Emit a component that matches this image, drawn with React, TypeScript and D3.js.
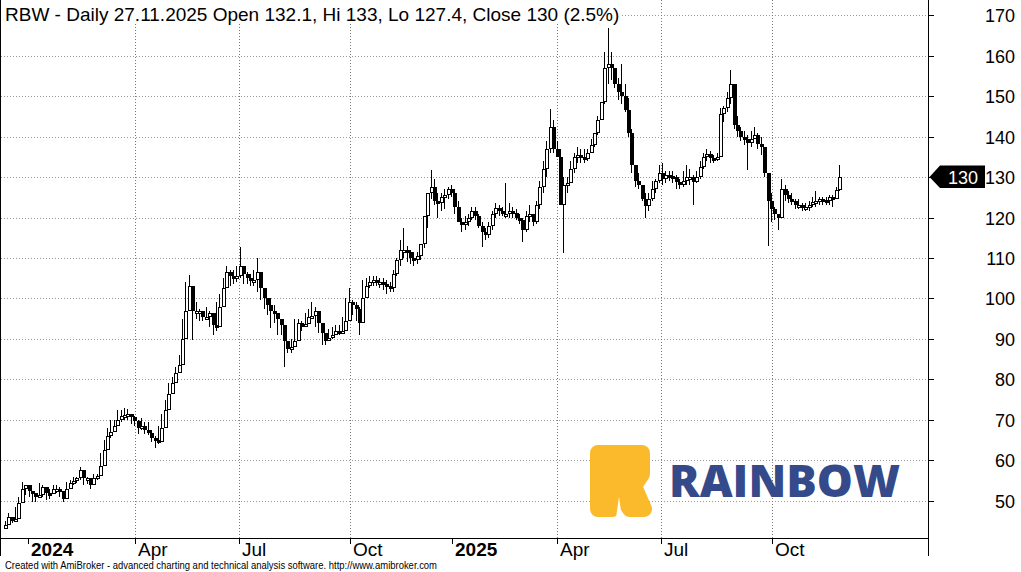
import React from 'react';
import * as d3 from 'd3';

const W = 1021;
const H = 572;
const FONT = '"Liberation Sans", Arial, sans-serif';

const startDate = '2023-12-08';
const endDate = '2025-11-27';
const holidays = [
  '2023-12-25', '2023-12-26', '2024-01-01', '2024-03-29', '2024-04-01', '2024-05-01', '2024-05-03',
  '2024-05-30', '2024-08-15', '2024-11-01', '2024-11-11', '2024-12-24', '2024-12-25', '2024-12-26',
  '2024-12-31', '2025-01-01', '2025-01-06', '2025-04-18', '2025-04-21', '2025-05-01', '2025-06-19',
  '2025-08-15', '2025-11-11',
];

// each value = one 2-session candle
const firstOpen = 43;
const closes = [
  44, 46, 45, 45.5, 49.5, 53, 54, 52.5, 52, 51,
  51.5, 53.4, 52, 51.6, 53, 53, 52.5, 50.5, 53, 54.3,
  54.8, 55.5, 57.5, 55.5, 55.5, 54, 55.5, 56, 58.5, 62.5,
  66, 67, 68.5, 70, 71, 71.2, 71.5, 70.8, 69.7, 68,
  68.5, 67.5, 66.8, 65.5, 65, 64.5, 68, 72.5, 76.5, 79,
  81.6, 83.5, 90, 97, 103, 97, 97, 97, 95.5, 95.5,
  96.5, 93.5, 93, 98, 102.5, 106.5, 105.5, 105, 105.5, 108,
  106, 105, 104.5, 104.5, 106.5, 102.5, 100, 98.3, 97, 96.5,
  95, 93.5, 89.5, 87.5, 88, 89.5, 94, 93, 93.8, 95.5,
  95.6, 97, 94, 91.5, 89.5, 90.3, 91, 92, 91.5, 92,
  94.5, 99, 98.5, 97.5, 94, 100, 103, 104, 104.5, 104,
  104, 103.5, 103, 102.5, 106, 109.5, 112, 112, 111.5,
  110, 109.5, 110.5, 113.5, 120.5, 126, 127.5, 124, 123.5, 125,
  125.5, 127, 126, 122.5, 119, 118.3, 119, 120, 121.5, 120.5,
  118, 116.5, 115.8, 118, 121, 122.3, 121.5, 121, 121, 121.7,
  121.2, 120, 119.5, 117, 120.3, 120.8, 118.8, 123, 127.5, 132,
  137, 142.5, 137, 135, 123, 128, 128.5, 132, 135, 135.5,
  135, 134.5, 136, 138, 141, 144, 148.5, 157, 158, 157,
  153, 151, 150, 146.5, 141, 133, 129, 128, 124.5, 122.8,
  124.5, 127, 129, 131, 129.5, 130.5, 130.3, 130, 128.7, 128,
  129, 130, 130, 128.7, 130, 132.5, 135, 135.7, 134.7, 134.5,
  135, 145.5, 147, 149.5, 153, 143, 141.5, 140, 139.5, 138.5,
  139.5, 140.5, 138.3, 137.5, 131, 124, 122, 121, 120, 127,
  125.5, 124.5, 124, 123, 123, 122.5, 122.5, 123, 123.8, 124,
  124.5, 124.3, 124, 125, 124.5, 126.8, 130,
];
const highs = [
  45, 47, 45.7, 48.4, 51, 54.7, 54, 53, 52.2, 52,
  54.4, 54, 52.7, 53, 54, 53.8, 53.4, 51.4, 54.5, 55,
  55.8, 55.8, 58.3, 55.8, 55.8, 54.8, 56.5, 56.7, 61.8, 65,
  68, 70, 70, 72.5, 72.5, 73, 72.7, 71.5, 71, 70,
  70.5, 69.5, 69.5, 67.5, 66, 68.5, 71.5, 75, 79, 80.5,
  83, 86, 95, 104, 105.8, 103, 99, 97.5, 97, 98,
  97, 95, 99, 101, 105, 108, 107, 107, 108, 112.7,
  107.5, 106.5, 106, 107, 110, 104, 102, 100, 100, 98.5,
  96.5, 95, 91, 89.5, 90, 95, 95, 94.5, 96.5, 97.5,
  99, 98, 95, 92, 91.5, 92.5, 93, 93.5, 93.5, 95.5,
  100, 102.5, 99.5, 99, 98, 104.5, 105, 105.5, 105.5, 105.5,
  105, 105, 104.5, 104, 107, 110, 114.5, 117.5, 113, 112,
  111.5, 111.5, 113, 118, 125, 131.7, 129.5, 126, 126, 127,
  127.5, 128, 127, 124, 120, 120.5, 121, 122.5, 122.5, 121,
  119, 117.5, 119, 121.5, 123.5, 123, 122.5, 128.5, 123.5, 122.5,
  122, 121, 120, 121.5, 123, 121, 124, 129, 134, 139,
  146.8, 144, 139, 137, 130, 130, 134, 136, 137.5, 137,
  137, 137, 139.5, 141, 145, 148, 161, 166.8, 161, 156,
  154.5, 158, 153, 149.5, 142, 131, 131, 128, 126, 126,
  129, 129.5, 133, 133.5, 131.5, 131.5, 131.5, 130.5, 129.5, 131.5,
  133, 132, 130.5, 131.5, 134, 136, 137, 136.5, 135.5, 136,
  147, 147.5, 151, 156.4, 153, 145, 142.5, 141.5, 140.5, 141.5,
  142.5, 141, 140, 137.5, 131, 126, 122.5, 121, 129.5, 128,
  126.5, 126, 124.5, 124.5, 123.5, 123.5, 124, 125, 126.5, 125,
  125, 125, 125.5, 125.5, 127.5, 133,
];
const lows = [
  43, 45, 44.5, 45.7, 48.8, 51.4, 51.5, 51, 49.7, 49.7,
  52.2, 51, 50.2, 50.5, 52.2, 52, 51, 49.7, 52.5, 53,
  54, 54.4, 55, 54, 54.2, 53, 54.4, 55, 57.6, 61.5,
  64.5, 65.5, 67.5, 68.5, 69.5, 70, 70, 69, 68.5, 66.5,
  67.5, 66.5, 66.2, 64.5, 63, 64, 67, 70.5, 74, 77,
  79.5, 82, 86, 95, 98, 89.7, 95, 94.5, 94.5, 95,
  93, 91, 92, 96.5, 100, 104, 103, 103.5, 104, 105,
  103.5, 103.5, 103, 103, 101.5, 99.5, 97.5, 96, 92.6, 94,
  91, 91, 83, 86.5, 86.5, 89, 92, 92, 93, 94,
  95, 93, 91.5, 88.5, 88.5, 89.5, 90, 91, 91, 91.5,
  93, 97.5, 96, 94.5, 91, 97, 101.5, 102.5, 103, 103,
  102.5, 102, 101, 101.5, 101.5, 105.5, 108, 110, 109, 108.5,
  108, 108.5, 109.5, 112.5, 117.5, 124.5, 123, 120, 121.5, 122,
  124.5, 125, 121, 119, 116.5, 117, 118, 119.5, 119.5, 117.5,
  112.8, 114.5, 115, 117, 120, 120.5, 120.5, 120, 120, 120,
  119.5, 118.5, 114, 116.5, 119, 118, 118.5, 122, 126, 130,
  136, 136, 135, 132, 111.2, 126, 129, 131, 133.5, 133.5,
  133.5, 134, 136, 137.5, 140.5, 144, 148, 153, 154, 152,
  149, 148, 146, 140, 131, 127.5, 127, 124, 120, 121.5,
  124, 126, 128.5, 128, 128.5, 129, 128.5, 127, 127, 127.5,
  128, 128, 123, 128.5, 129.5, 132, 134, 133.5, 133.5, 134,
  135, 143.5, 146, 148, 142, 140, 139, 138, 131.7, 137.5,
  139.5, 137, 135.5, 130, 113, 119, 119.5, 117, 120, 124,
  123.5, 123, 122, 122, 121.5, 121.5, 121.5, 122.5, 122.5, 123,
  123, 123, 123, 122.5, 124.5, 126.5,
];

const priceTicks = [50, 60, 70, 80, 90, 100, 110, 120, 130, 140, 150, 160, 170];
const quarterMonths = [0, 3, 6, 9];
const monthNames = ['Jan', 'Feb', 'Mar', 'Apr', 'May', 'Jun', 'Jul', 'Aug', 'Sep', 'Oct', 'Nov', 'Dec'];
const lastClose = 130;
const titleText = 'RBW - Daily 27.11.2025 Open 132.1, Hi 133, Lo 127.4, Close 130 (2.5%)';
const footerText = 'Created with AmiBroker - advanced charting and technical analysis software. http://www.amibroker.com';
const logoText = 'RAINBOW';

function tradingDays(): Date[] {
  const hol = new Set(holidays);
  const out: Date[] = [];
  const d = new Date(startDate + 'T00:00:00Z');
  const end = new Date(endDate + 'T00:00:00Z');
  while (d <= end) {
    const wd = d.getUTCDay();
    const iso = d.toISOString().slice(0, 10);
    if (wd !== 0 && wd !== 6 && !hol.has(iso)) out.push(new Date(d));
    d.setUTCDate(d.getUTCDate() + 1);
  }
  return out;
}

export default function App() {
  const days = tradingDays();
  const N = days.length;
  const x = d3.scaleLinear().domain([0, N - 1]).range([4, 840]);
  const y = d3.scaleLinear().domain([50, 170]).range([500.7, 15.3]);

  const G = Math.floor(N / 2);
  const off = N - 2 * G;
  const nC = Math.min(G, closes.length);

  const wickEls = [] as JSX.Element[];
  const bodyEls = [] as JSX.Element[];
  for (let j = 0; j < nC; j++) {
    const d0 = off + 2 * j;
    const cx = Math.round((x(d0) + x(d0 + 1)) / 2);
    const o = j === 0 ? firstOpen : closes[j - 1];
    const c = closes[j];
    const hi = Math.max(highs[j] ?? c, o, c);
    const lo = Math.min(lows[j] ?? c, o, c);
    const yTop = Math.round(y(Math.max(o, c)));
    let yBot = Math.round(y(Math.min(o, c)));
    if (yBot - yTop < 3) yBot = yTop + 3;
    wickEls.push(
      <line key={'w' + j} x1={cx + 0.5} x2={cx + 0.5} y1={Math.round(y(hi))} y2={Math.round(y(lo))} stroke="#000" />
    );
    if (c >= o) {
      bodyEls.push(<rect key={'c' + j} x={cx - 1} y={yTop + 0.5} width={3} height={Math.max(yBot - yTop - 1, 1)} fill="#fff" stroke="#000" strokeWidth={1} />);
    } else {
      bodyEls.push(<rect key={'c' + j} x={cx - 1.5} y={yTop} width={4} height={yBot - yTop} fill="#000" />);
    }
  }

  const ticks: { x: number; label: string; year: boolean }[] = [];
  for (let i = 1; i < N; i++) {
    const m = days[i].getUTCMonth();
    if (days[i - 1].getUTCMonth() === m) continue;
    if (!quarterMonths.includes(m)) continue;
    const isYear = m === 0;
    ticks.push({ x: Math.round(x(i)), label: isYear ? String(days[i].getUTCFullYear()) : monthNames[m], year: isYear });
  }

  const axisX = 928.5;
  const bottomY = 538.5;
  const ly = y(lastClose);

  return (
    <svg width={W} height={H} style={{ position: 'absolute', left: 0, top: 0, background: '#fff' }} fontFamily={FONT}>
      <rect x={0} y={0} width={W} height={H} fill="#fff" />
      {priceTicks.map((v) => (
        <line key={'g' + v} x1={1} x2={928} y1={Math.round(y(v)) + 0.5} y2={Math.round(y(v)) + 0.5} stroke="#9a9a9a" strokeDasharray="1,2" />
      ))}
      {ticks.filter((t) => !t.year).map((t) => (
        <line key={'v' + t.label + t.x} x1={t.x + 0.5} x2={t.x + 0.5} y1={0} y2={538} stroke="#777" strokeDasharray="1,2" />
      ))}
      <g>
        <path d="M598,453 L642,453 L642,474 L634,486 L644,509 L630,509 L620,494 L612,509 L598,509 Z" fill="#fbba2c" stroke="#fbba2c" strokeWidth={16} strokeLinejoin="round" />
        <path d="M616,518 L619,497 L622,518 Z" fill="#fff" />
        <text x={669} y={497} fontFamily='"Open Sans", sans-serif' fontWeight={800} fontSize={45} fill="#344a8a" textLength={231} lengthAdjust="spacingAndGlyphs">{logoText}</text>
      </g>
      <g shapeRendering="crispEdges">
        {wickEls}
        {bodyEls}
      </g>
      <rect x={1} y={0} width={621} height={24} fill="#fff" />
      <text x={5} y={21} fontSize={19} fill="#000">{titleText}</text>
      <g shapeRendering="crispEdges" stroke="#000">
        <line x1={0.5} x2={0.5} y1={0} y2={556} />
        <line x1={axisX} x2={axisX} y1={0} y2={556} />
        <line x1={0} x2={929} y1={bottomY} y2={bottomY} />
        {priceTicks.map((v) => (
          <line key={'t' + v} x1={929} x2={934} y1={Math.round(y(v)) + 0.5} y2={Math.round(y(v)) + 0.5} />
        ))}
        {ticks.map((t) => (
          <line key={'xt' + t.label + t.x} x1={t.x + 0.5} x2={t.x + 0.5} y1={539} y2={544} />
        ))}
      </g>
      {priceTicks.map((v) => (
        <text key={'yl' + v} x={1015} y={y(v) + 7} textAnchor="end" fontSize={18} fill="#000">{v}</text>
      ))}
      {ticks.map((t) => (
        <text key={'xl' + t.label + t.x} x={t.x + 3} y={556} fontSize={19} fontWeight={t.year ? 700 : 400} fill="#000">{t.label}</text>
      ))}
      <polygon points={`929.5,${ly} 940,${ly - 11.5} 985,${ly - 11.5} 985,${ly + 11} 940,${ly + 11}`} fill="#000" />
      <text x={963} y={ly + 7} textAnchor="middle" fontSize={18} fill="#fff">{lastClose}</text>
      <text x={5} y={569} fontSize={11} fill="#000" textLength={432} lengthAdjust="spacingAndGlyphs">{footerText}</text>
    </svg>
  );
}
